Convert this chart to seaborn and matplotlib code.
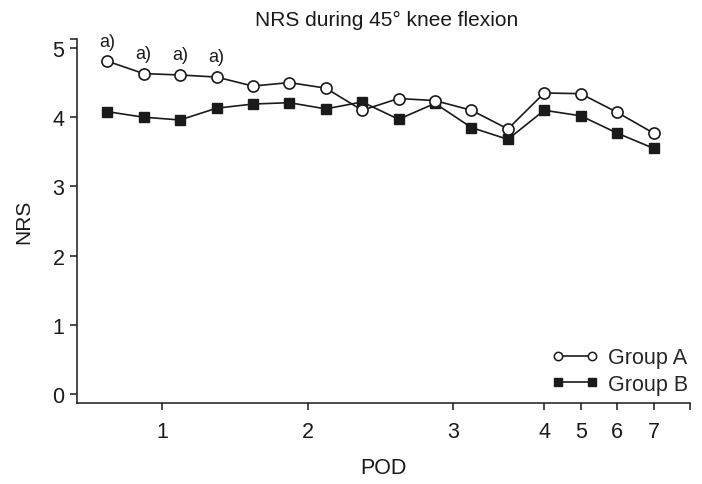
import matplotlib
matplotlib.use("Agg")
import matplotlib.pyplot as plt
import seaborn as sns
import pandas as pd
import numpy as np
from matplotlib.lines import Line2D

sns.set_theme(style="ticks")
plt.rcParams['font.family'] = ['Liberation Sans', 'DejaVu Sans']

# Measurement index along POD axis (4 per day on POD1-3, 1 per day on POD4-7)
time_index = list(range(16))
group_a = [4.81, 4.63, 4.61, 4.58, 4.45, 4.50, 4.42, 4.10,
           4.27, 4.24, 4.10, 3.83, 4.35, 4.34, 4.07, 3.77]
group_b = [4.08, 4.00, 3.96, 4.13, 4.19, 4.21, 4.12, 4.22,
           3.97, 4.20, 3.85, 3.68, 4.10, 4.02, 3.77, 3.55]
tick_positions = [1.5, 5.5, 9.5, 12, 13, 14, 15, 16]
tick_labels = ["1", "2", "3", "4", "5", "6", "7", ""]
sig_points = [0, 1, 2, 3]
sig_label = "a)"

df = pd.DataFrame({
    "idx": time_index * 2,
    "NRS": group_a + group_b,
    "Group": ["Group A"] * 16 + ["Group B"] * 16,
})

ink = "#1a1a1a"
fig = plt.figure(figsize=(7.02, 4.85), dpi=100)
ax = fig.add_axes([77/702, 1 - 404/485, (690 - 77)/702, (404 - 40)/485])

sns.lineplot(data=df[df.Group == "Group A"], x="idx", y="NRS", ax=ax,
             color=ink, linewidth=1.2, marker="o", markersize=8,
             markerfacecolor="white", markeredgecolor=ink,
             markeredgewidth=1.2, legend=False)
sns.lineplot(data=df[df.Group == "Group B"], x="idx", y="NRS", ax=ax,
             color=ink, linewidth=1.2, marker="s", markersize=7.5,
             markerfacecolor=ink, markeredgecolor=ink,
             markeredgewidth=1.0, legend=False)
ax.lines[0].set_zorder(4)

for i in sig_points:
    ax.text(time_index[i], group_a[i] + 0.29, sig_label, ha="center", va="center",
            fontsize=13, color=ink)

ax.set_xlim(-0.83, 16)
ax.set_ylim(-0.13, 5.13)
ax.set_xticks(tick_positions)
ax.set_xticklabels(tick_labels)
ax.set_yticks([0, 1, 2, 3, 4, 5, 5.13])
ax.set_yticklabels(["0", "1", "2", "3", "4", "5", ""])
ax.tick_params(axis="both", direction="out", length=5, width=1.1,
               color=ink, labelcolor=ink, labelsize=15.5)
ax.tick_params(axis="x", pad=8)
ax.tick_params(axis="y", pad=4)
for s in ["top", "right"]:
    ax.spines[s].set_visible(False)
for s in ["left", "bottom"]:
    ax.spines[s].set_linewidth(1.1)
    ax.spines[s].set_color(ink)

ax.set_xlabel("POD", fontsize=15.5, color=ink, labelpad=11)
ax.set_ylabel("NRS", fontsize=15, color=ink, labelpad=14)
fig.text(387/702, 1 - 20/485, "NRS during 45\u00b0 knee flexion", ha="center",
         va="center", fontsize=15, color=ink)

handles = [
    Line2D([], [], color=ink, linewidth=1.2, marker="o", markersize=6,
           markerfacecolor="white", markeredgecolor=ink, markeredgewidth=1.1),
    Line2D([], [], color=ink, linewidth=1.2, marker="s", markersize=5.5,
           markerfacecolor=ink, markeredgecolor=ink),
]
ax.legend(handles, ["Group A", "Group B"], loc="lower right", frameon=False,
          numpoints=2, fontsize=15.5, handlelength=2.2, handletextpad=0.45,
          labelspacing=0.25, bbox_to_anchor=(1.017, -0.01), borderaxespad=0.15)

fig.savefig("out.png", dpi=100)
